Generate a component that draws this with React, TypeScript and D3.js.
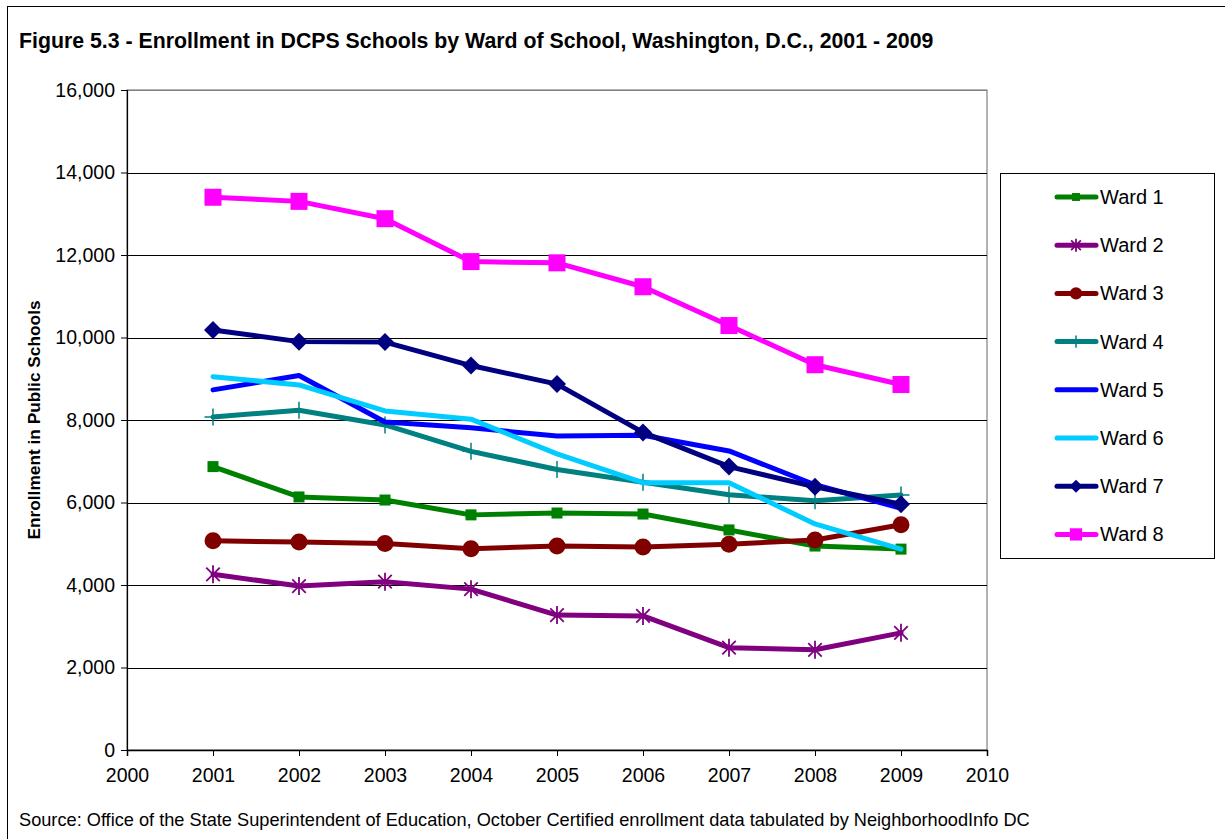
import * as d3 from 'd3';
import React, { useRef, useEffect } from 'react';

const years = [2001, 2002, 2003, 2004, 2005, 2006, 2007, 2008, 2009];
const xTicks = [2000, 2001, 2002, 2003, 2004, 2005, 2006, 2007, 2008, 2009, 2010];
const yTicks = [0, 2000, 4000, 6000, 8000, 10000, 12000, 14000, 16000];

const ward1 = [6870, 6135, 6060, 5700, 5745, 5720, 5335, 4945, 4870];
const ward2 = [4260, 3975, 4080, 3900, 3270, 3250, 2480, 2430, 2840];
const ward3 = [5070, 5040, 5005, 4880, 4945, 4920, 4990, 5090, 5460];
const ward4 = [8075, 8235, 7880, 7240, 6800, 6490, 6190, 6040, 6180];
const ward5 = [8730, 9080, 7950, 7810, 7610, 7630, 7250, 6430, 5860];
const ward6 = [9050, 8850, 8220, 8020, 7180, 6480, 6480, 5480, 4870];
const ward7 = [10180, 9900, 9890, 9320, 8870, 7700, 6870, 6380, 5960];
const ward8 = [13400, 13300, 12880, 11840, 11810, 11230, 10290, 9340, 8860];

const seriesNames = ['Ward 1', 'Ward 2', 'Ward 3', 'Ward 4', 'Ward 5', 'Ward 6', 'Ward 7', 'Ward 8'];
const seriesValues = [ward1, ward2, ward3, ward4, ward5, ward6, ward7, ward8];
const seriesColors = ['#008000', '#800080', '#800000', '#008080', '#0000FF', '#00CCFF', '#000080', '#FF00FF'];
const seriesMarkers = ['square', 'star', 'circle', 'plus', 'none', 'none', 'diamond', 'bigsquare'];

const W = 1225, H = 839;
const margin = { left: 127, right: 238, top: 90, bottom: 89 };
const font = '"Liberation Sans", Arial, sans-serif';

function drawMarker(g, kind, color, x, y, legend = false) {
    const s = legend ? 0.72 : 1;
    if (kind === 'square') {
        g.append('rect').attr('x', x - 5.5 * s).attr('y', y - 5.5 * s).attr('width', 11 * s).attr('height', 11 * s).attr('fill', color);
    } else if (kind === 'bigsquare') {
        g.append('rect').attr('x', x - 8.5 * s).attr('y', y - 8.5 * s).attr('width', 17 * s).attr('height', 17 * s).attr('fill', color);
    } else if (kind === 'circle') {
        g.append('circle').attr('cx', x).attr('cy', y).attr('r', 8.5 * s).attr('fill', color);
    } else if (kind === 'diamond') {
        const r = 9 * s;
        g.append('path').attr('d', `M${x},${y - r}L${x + r},${y}L${x},${y + r}L${x - r},${y}Z`).attr('fill', color);
    } else if (kind === 'plus') {
        const r = 8.5 * s;
        g.append('path').attr('d', `M${x},${y - r}V${y + r}M${x - r},${y}H${x + r}`).attr('stroke', color).attr('stroke-width', 1.5);
    } else if (kind === 'star') {
        const r = 9 * s;
        const d = r * 0.75;
        g.append('path')
            .attr('d', `M${x},${y - r}V${y + r}M${x - d},${y - d}L${x + d},${y + d}M${x - d},${y + d}L${x + d},${y - d}`)
            .attr('stroke', color).attr('stroke-width', 1.8);
    }
}

function EnrollmentChart() {
    const ref = useRef(null);

    useEffect(() => {
        const svg = d3.select(ref.current);
        svg.selectAll('*').remove();

        const x = d3.scaleLinear().domain([2000, 2010]).range([margin.left, W - margin.right]);
        const y = d3.scaleLinear().domain([0, 16000]).range([H - margin.bottom, margin.top]);

        svg.append('rect').attr('width', W).attr('height', H).attr('fill', '#fff');
        // outer frame
        svg.append('rect').attr('x', 7.5).attr('y', 6.5).attr('width', W + 20).attr('height', H + 20)
            .attr('fill', 'none').attr('stroke', '#000').attr('stroke-width', 1);

        svg.append('text').attr('x', 19).attr('y', 48)
            .attr('font-family', font).attr('font-size', 21.3).attr('font-weight', 'bold')
            .text('Figure 5.3 - Enrollment in DCPS Schools by Ward of School, Washington, D.C., 2001 - 2009');

        // plot border
        svg.append('rect').attr('x', x(2000)).attr('y', y(16000)).attr('width', x(2010) - x(2000)).attr('height', y(0) - y(16000))
            .attr('fill', 'none').attr('stroke', '#808080').attr('stroke-width', 1.2);

        // gridlines
        svg.append('g').selectAll('line').data(yTicks.filter(d => d > 0)).join('line')
            .attr('x1', x(2000)).attr('x2', x(2010))
            .attr('y1', d => Math.round(y(d)) + 0.5).attr('y2', d => Math.round(y(d)) + 0.5)
            .attr('stroke', d => d === 16000 ? '#808080' : '#000').attr('stroke-width', 1);

        // y axis
        const yAxis = svg.append('g').attr('transform', `translate(${x(2000)},0)`)
            .call(d3.axisLeft(y).tickValues(yTicks).tickSize(6).tickPadding(6).tickFormat(d3.format(',')));
        yAxis.select('.domain').attr('stroke', '#000').attr('stroke-width', 1.2);
        yAxis.selectAll('text').attr('font-family', font).attr('font-size', 19.5).attr('fill', '#000');

        // x axis
        const xAxis = svg.append('g').attr('transform', `translate(0,${y(0)})`)
            .call(d3.axisBottom(x).tickValues(xTicks).tickSize(6).tickPadding(12).tickFormat(d3.format('d')));
        xAxis.select('.domain').attr('stroke', '#000').attr('stroke-width', 1.5);
        xAxis.selectAll('text').attr('font-family', font).attr('font-size', 19.5).attr('fill', '#000');

        svg.append('text')
            .attr('transform', `translate(40,${(y(0) + y(16000)) / 2}) rotate(-90)`)
            .attr('text-anchor', 'middle')
            .attr('font-family', font).attr('font-size', 17.3).attr('font-weight', 'bold')
            .text('Enrollment in Public Schools');

        const line = d3.line().x((d, i) => x(years[i])).y(d => y(d));

        seriesValues.forEach((vals, si) => {
            const g = svg.append('g');
            g.append('path').datum(vals).attr('d', line)
                .attr('fill', 'none').attr('stroke', seriesColors[si]).attr('stroke-width', 5)
                .attr('stroke-linejoin', 'round').attr('stroke-linecap', 'round');
            vals.forEach((v, i) => drawMarker(g, seriesMarkers[si], seriesColors[si], x(years[i]), y(v)));
        });

        // legend
        const lg = svg.append('g');
        lg.append('rect').attr('x', 1000.5).attr('y', 173.5).attr('width', 214).attr('height', 385)
            .attr('fill', '#fff').attr('stroke', '#000').attr('stroke-width', 1);
        seriesNames.forEach((name, i) => {
            const ly = 197 + i * 48.2;
            lg.append('line').attr('x1', 1057).attr('x2', 1096).attr('y1', ly).attr('y2', ly)
                .attr('stroke', seriesColors[i]).attr('stroke-width', 5).attr('stroke-linecap', 'round');
            drawMarker(lg, seriesMarkers[i], seriesColors[i], 1076, ly, true);
            lg.append('text').attr('x', 1100).attr('y', ly + 7)
                .attr('font-family', font).attr('font-size', 20).text(name);
        });

        svg.append('text').attr('x', 19).attr('y', 826)
            .attr('font-family', font).attr('font-size', 18.2)
            .text('Source: Office of the State Superintendent of Education, October Certified enrollment data tabulated by NeighborhoodInfo DC');
    }, []);

    return <svg ref={ref} width={W} height={H} style={{ position: 'absolute', left: 0, top: 0 }} />;
}

export default function App() {
    return <EnrollmentChart />;
}
